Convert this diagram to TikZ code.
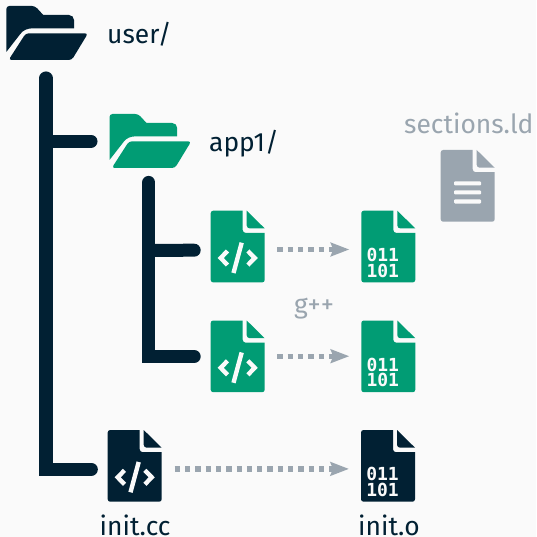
\documentclass[tikz,border=0pt]{standalone}
\usepackage{fontspec}
\setmainfont{Fira Sans}
\newfontfamily\monof{DejaVu Sans Mono}[BoldFont={DejaVu Sans Mono Bold}]
\usetikzlibrary{calc,arrows.meta}
\definecolor{navy}{HTML}{012033}
\definecolor{teal}{HTML}{019C74}
\definecolor{greyc}{HTML}{9AA5AF}
\definecolor{bgc}{HTML}{FAFAFA}
\tikzset{
 trunkline/.style={draw=navy,line width=13.3pt,line cap=round,line join=miter},
 branchline/.style={draw=navy,line width=13pt,line cap=round},
 flow/.style={draw=greyc,line width=5.3pt,dash pattern=on 5.3pt off 5pt,
   -{Stealth[length=18.5pt,width=13.5pt,inset=2.5pt]}},
 lab/.style={inner sep=0pt,anchor=base west,font=\fontsize{26.4}{26.4}\selectfont,text=navy},
 greylab/.style={lab,text=greyc},
 iconbox/.style={inner sep=0pt,minimum width=54pt,minimum height=72pt,anchor=north west},
 dirbox/.style={inner sep=0pt,minimum width=81pt,minimum height=54pt,anchor=north west},
 bits/.style={inner sep=0pt,align=center,text=bgc,font=\monof\bfseries\fontsize{18}{15.8}\selectfont},
}
\newcommand{\diricon}[3]{%
 \begin{scope}[shift={(#1,#2)}]
 \fill[#3] (0,46) [rounded corners=3pt] -- (0,0) -- (28.7,0) [sharp corners] -- (37,9) [rounded corners=5pt] -- (67.7,9) [sharp corners] -- (67.7,22.3) -- (27,22.3) .. controls (21,22.3) and (17,24) .. (14,28) -- cycle;
 \fill[#3,rounded corners=3pt] (19.5,27.3) -- (81.7,27.3) -- (65.5,54) -- (2.3,54) -- cycle;
 \end{scope}}
\newcommand{\docbody}[3]{%
 \begin{scope}[shift={(#1,#2)}]
 \fill[#3] (3,0) [rounded corners=2.5pt] -- (0,0) -- (0,71.7) -- (54,71.7) [sharp corners] -- (54,22.2) [rounded corners=3pt] -- (32,22.2) [sharp corners] -- (32,0) -- cycle;
 \fill[#3] (36,0) -- (54,17.7) [rounded corners=3pt] -- (36,17.7) [sharp corners] -- cycle;
 \end{scope}}
\newcommand{\codeicon}[3]{%
 \docbody{#1}{#2}{#3}
 \begin{scope}[shift={(#1,#2)}]
 \draw[bgc,line width=4.4pt,miter limit=4] (16.8,40.3) -- (10,47.3) -- (16.8,54.3);
 \draw[bgc,line width=4.4pt,miter limit=4] (37.2,40.3) -- (44,47.3) -- (37.2,54.3);
 \draw[bgc,line width=4.4pt] (31,32) -- (22.8,62.3);
 \end{scope}}
\newcommand{\binicon}[4]{%
 \docbody{#1}{#2}{#3}
 \node[bits] (#4) at ($(#1,#2)+(21.5,52)$) {011\\101};}
\begin{document}
\begin{tikzpicture}[x=1pt,y=-1pt]
\useasboundingbox (0,0) rectangle (536,537);
\fill[bgc] (0,0) rectangle (536,537);
% folders
\diricon{6.3}{6}{navy}
\diricon{109.5}{114}{teal}
\node[dirbox] (userdir) at (6.3,6) {};
\node[dirbox] (appdir) at (109.5,114) {};
% files
\codeicon{210.7}{210.7}{teal}
\codeicon{210.7}{320.5}{teal}
\codeicon{107.7}{430}{navy}
\binicon{361.3}{210.7}{teal}{bitsa}
\binicon{361.3}{320.5}{teal}{bitsb}
\binicon{361}{430}{navy}{bitsc}
\docbody{440.7}{150}{greyc}
\fill[bgc,rounded corners=1pt] (454,181.3) rectangle (481,185.5);
\fill[bgc,rounded corners=1pt] (454,190.3) rectangle (481,194.5);
\fill[bgc,rounded corners=1pt] (454,199.3) rectangle (481,203.5);
\node[iconbox] (srca) at (210.7,210.7) {};
\node[iconbox] (srcb) at (210.7,320.5) {};
\node[iconbox] (srcc) at (107.7,430) {};
\node[iconbox] (obja) at (361.3,210.7) {};
\node[iconbox] (objb) at (361.3,320.5) {};
\node[iconbox] (objc) at (361,430) {};
% tree connectors
\coordinate (usertop) at ($(userdir.south west)+(39.7,17.7)$);
\coordinate (apptop) at ($(appdir.south west)+(39.3,14)$);
\draw[branchline] (usertop |- appdir.west) -- ($(appdir.west)+(-18.5,0)$);
\draw[trunkline] (usertop) |- ($(srcc.west)+(-16.5,3)$);
\draw[branchline,line join=miter] (apptop) |- ($(srcb.west)+(-16.5,-0.2)$);
\draw[branchline] ($(apptop)+(0,68)$) -- ($(srca.west)+(-16.5,3.3)$);
% flows
\draw[flow] ($(srca.east)+(12.3,2.6)$) -- ($(obja.west)+(-12,2.6)$);
\draw[flow] ($(srcb.east)+(12.3,-0.5)$) -- ($(objb.west)+(-12,-0.5)$);
\draw[flow] ($(srcc.east)+(12.6,2.7)$) -- ($(objc.west)+(-12,2.7)$);
% labels
\node[lab] (userlab) at (107,44) {user/};
\node[lab] (applab) at (209,152) {app1/};
\node[greylab] (ldlab) at (404,134) {sections.ld};
\node[greylab] (gpp) at (294,313) {g++};
\node[lab] (cclab) at (99.5,535) {init.cc};
\node[lab] (olab) at (358,535) {init.o};
\end{tikzpicture}
\end{document}
